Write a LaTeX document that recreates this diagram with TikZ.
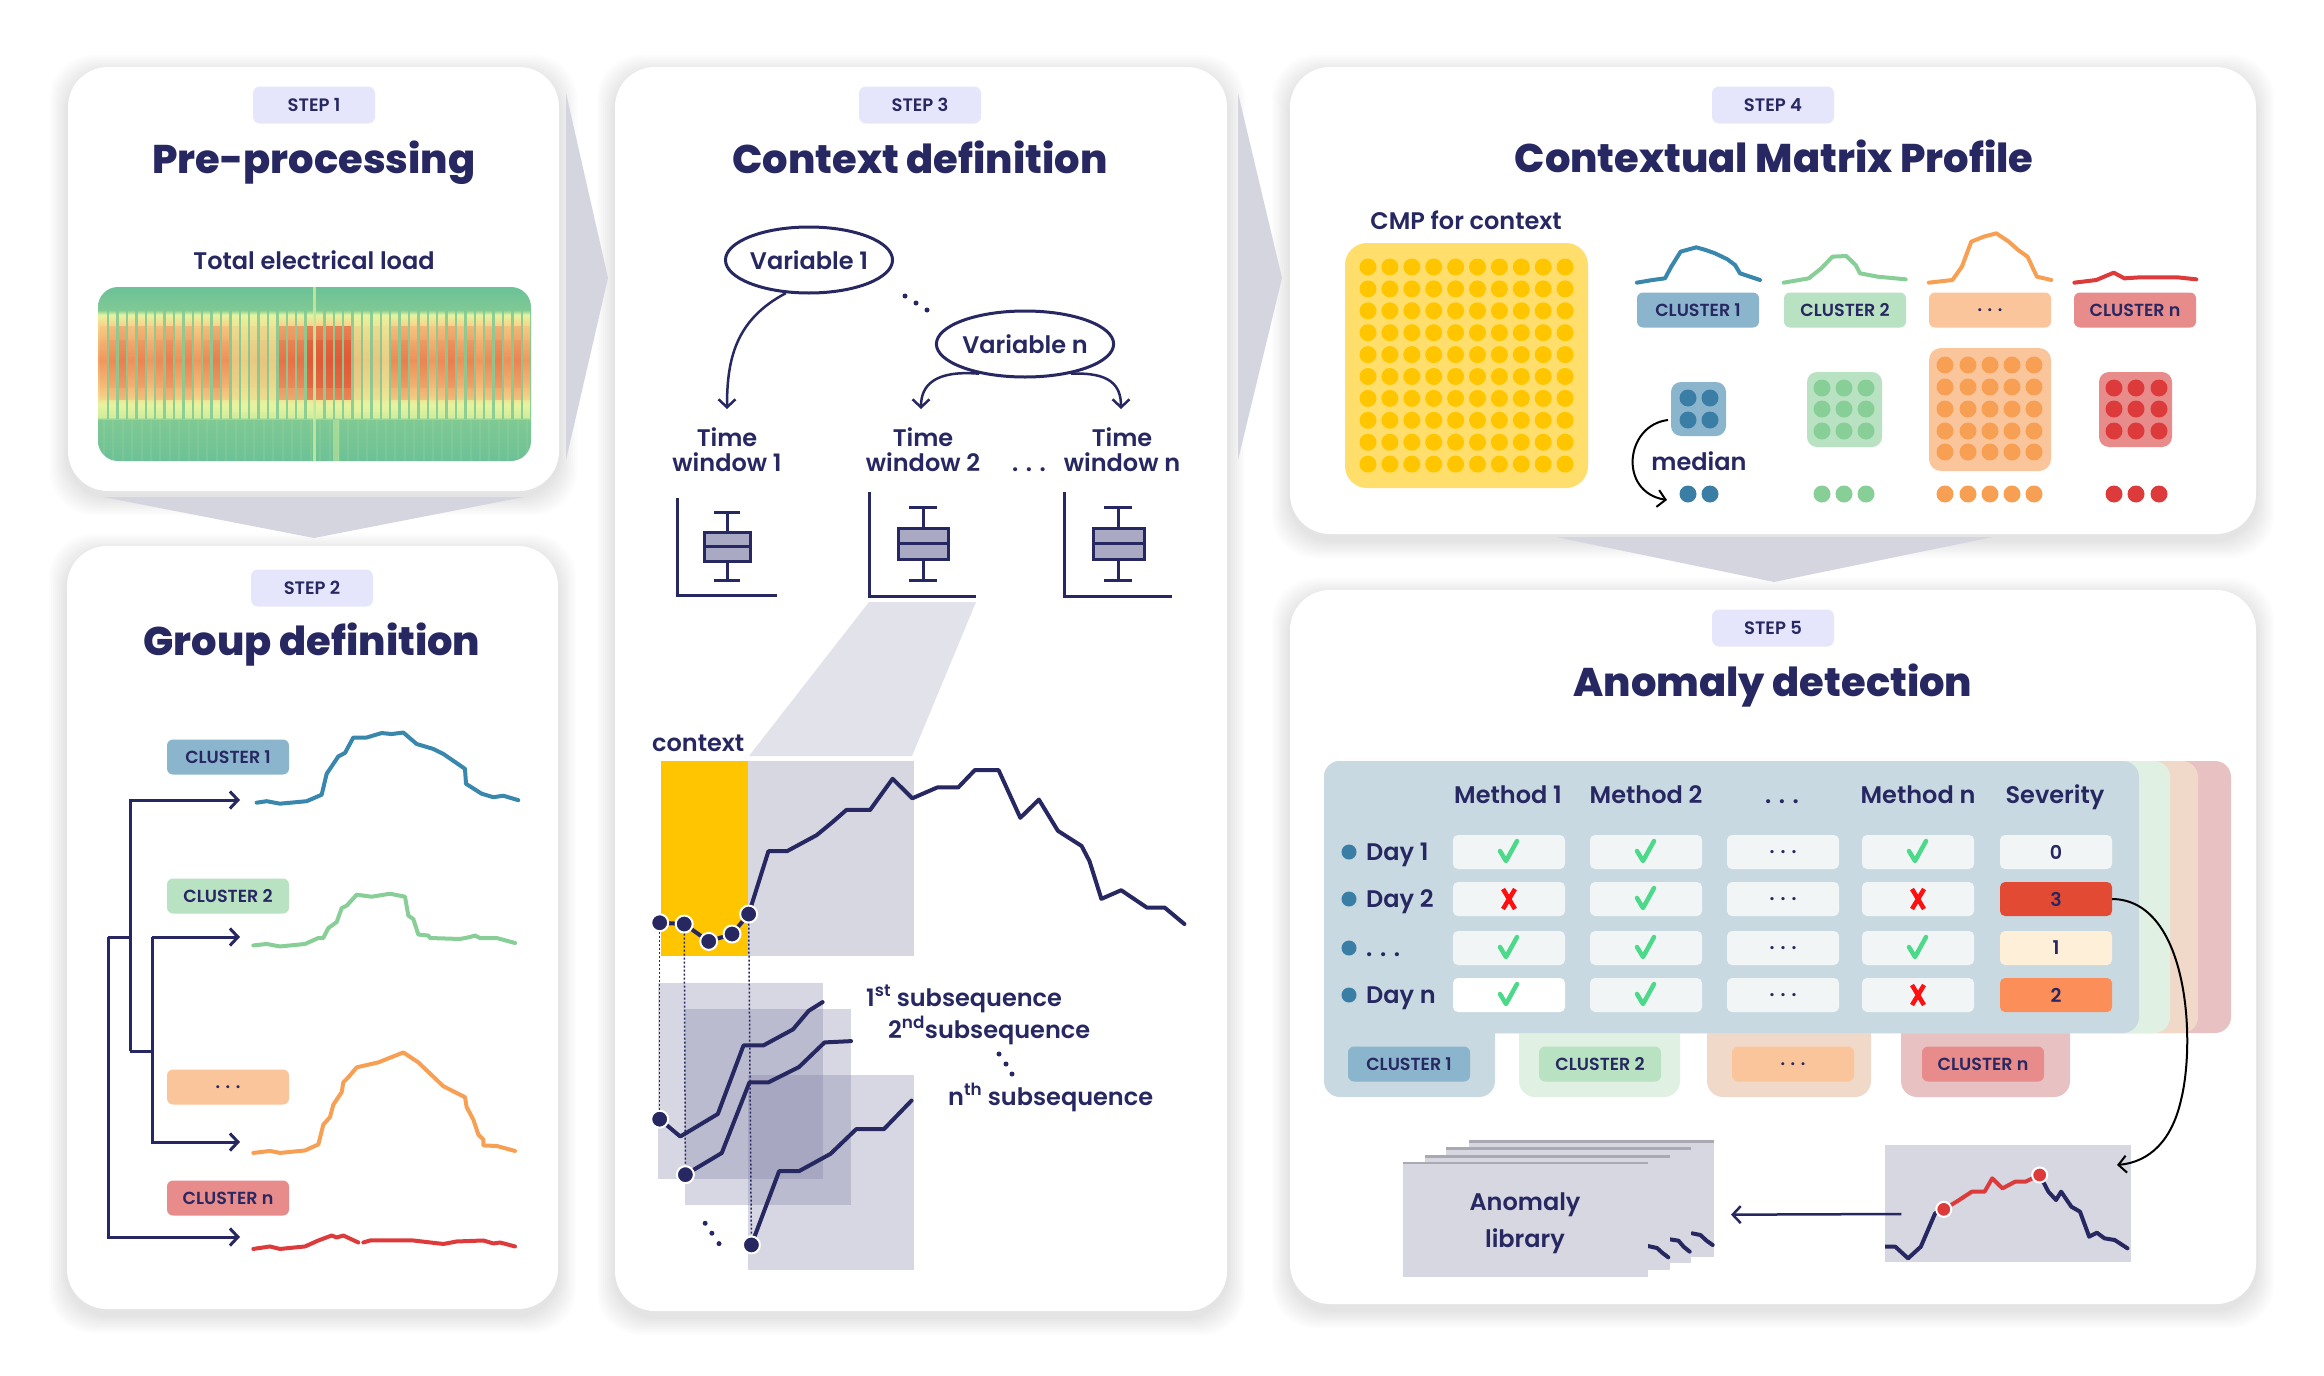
\documentclass[tikz,border=0pt]{standalone}
\usepackage{fontspec}
\setmainfont{Poppins}
\newfontfamily\semib{Poppins SemiBold}
\newfontfamily\xbold{Poppins ExtraBold}
\usetikzlibrary{arrows.meta,shapes.geometric}
\definecolor{navy}{HTML}{272761}
\definecolor{badgebg}{HTML}{E5E5FC}
\definecolor{chev}{HTML}{D5D5E0}
\definecolor{c1c}{HTML}{3A87AE}
\definecolor{c1b}{HTML}{8BB5CD}
\definecolor{c1d}{HTML}{3A7EA6}
\definecolor{c2c}{HTML}{88CE97}
\definecolor{c2b}{HTML}{B8E2C1}
\definecolor{c3c}{HTML}{F7A054}
\definecolor{c3b}{HTML}{FBC59B}
\definecolor{c4c}{HTML}{DD3B3B}
\definecolor{c4b}{HTML}{E88B8B}
\definecolor{ctxy}{HTML}{FFC600}
\definecolor{cmpbg}{HTML}{FFDE6B}
\definecolor{grayb}{HTML}{D7D7E1}
\definecolor{trapc}{HTML}{E2E2EA}
\definecolor{boxf}{HTML}{AAA9C3}
\definecolor{subf}{HTML}{7D7CA3}
\definecolor{blul}{HTML}{C9D9E1}
\definecolor{grnl}{HTML}{E0F1E4}
\definecolor{orgl}{HTML}{F0D9C8}
\definecolor{redl}{HTML}{E8C2C2}
\definecolor{cellc}{HTML}{F2F5F6}
\definecolor{sevA}{HTML}{E34A33}
\definecolor{sevB}{HTML}{FEEFD9}
\definecolor{sevC}{HTML}{FC8F59}
\definecolor{chkc}{HTML}{4CD98A}
\definecolor{crossc}{HTML}{FF1010}
\definecolor{libtop}{HTML}{A9A9B4}
\definecolor{hA}{HTML}{6CC197}
\definecolor{hB}{HTML}{7FC994}
\definecolor{hC}{HTML}{E6F4A0}
\definecolor{hD}{HTML}{F8D48A}
\definecolor{hE}{HTML}{F3A064}
\definecolor{hF}{HTML}{D0EC9C}
\definecolor{hmred}{HTML}{D8301F}
\pgfdeclareverticalshading{hmshade}{100bp}{color(0bp)=(hA); color(25bp)=(hA); color(36.8bp)=(hB); color(37.6bp)=(hF); color(41.1bp)=(hC); color(44bp)=(hD); color(54bp)=(hE); color(64.1bp)=(hD); color(67bp)=(hC); color(68.4bp)=(hB); color(75bp)=(hA); color(100bp)=(hA)}
\newcommand{\shadowpanel}[4]{%
  \foreach \s in {2,4,...,18}{%
    \fill[black,opacity=0.011,rounded corners=44pt] (#1-\s,#2-\s+6) rectangle (#3+\s,#4+\s+6);
  }%
  \fill[white,rounded corners=40pt] (#1,#2) rectangle (#3,#4);
}
\begin{document}
\begin{tikzpicture}[x=1pt,y=-1pt,
  badge/.style={fill=badgebg, rounded corners=7pt, minimum width=122pt, minimum height=37pt, inner sep=0pt, font=\semib\fontsize{18}{20}\selectfont, text=navy},
  ttl/.style={anchor=base, font=\xbold\fontsize{40}{48}\selectfont, text=navy},
  lbl/.style={anchor=base, font=\semib\fontsize{24}{28}\selectfont, text=navy, inner sep=0pt},
  cbadge/.style={rounded corners=6pt, minimum width=122pt, minimum height=35pt, inner sep=0pt, font=\semib\fontsize{17.5}{20}\selectfont, text=navy},
  tree/.style={draw=navy, line width=3pt},
  barb/.style={-{Straight Barb[length=8pt,width=17pt]}},
  curve/.style={line width=4pt, line join=round, line cap=round},
  navydot/.style={circle, fill=navy, draw=white, line width=2pt, minimum size=17pt, inner sep=0pt},
  smalldot/.style={circle, fill=navy, minimum size=5pt, inner sep=0pt},
  ellip/.style={ellipse, draw=navy, line width=3pt, minimum width=162pt, minimum height=66pt, inner sep=0pt, font=\semib\fontsize{24}{28}\selectfont, text=navy},
  cell/.style={fill=cellc, rounded corners=5pt, minimum width=112pt, minimum height=34pt, inner sep=0pt, font=\semib\fontsize{19}{22}\selectfont, text=navy},
  chk/.pic={\draw[chkc, line width=4.5pt, line cap=round, line join=round] (-9,-1) -- (-3,9) -- (8,-11);},
  crs/.pic={\draw[crossc, line width=4.5pt] (-6,-10) -- (6,10) (-6,10) -- (6,-10);},
  zA/.style={shift={(60,540)}, xscale=1/3, yscale=1/2.01},
  zB/.style={shift={(615,640)}, xscale=1/2.529, yscale=1/2.306},
  zC/.style={shift={(1290,60)}, xscale=1/1.6, yscale=1/3},
  zD/.style={shift={(1380,1110)}, xscale=1/1.96, yscale=1/3}
]
\useasboundingbox (0,0) rectangle (2324,1376);
\fill[white] (0,0) rectangle (2324,1376);

% ---------- panels ----------
\shadowpanel{68}{67}{559}{491}
\shadowpanel{67}{546}{558}{1309}
\shadowpanel{615}{67}{1227}{1311}
\shadowpanel{1290}{67}{2256}{534}
\shadowpanel{1290}{590}{2256}{1304}

% ---------- chevrons ----------
\fill[chev] (566,93) -- (608,278) -- (566,460) -- cycle;
\fill[chev] (1238,93) -- (1282,278) -- (1238,460) -- cycle;
\fill[chev] (103,497) -- (524,497) -- (314,538) -- cycle;
\fill[chev] (1556,537) -- (1993,537) -- (1774,582) -- cycle;

% ---------- STEP 1 ----------
\node[badge] (b1) at (314,105) {STEP 1};
\node[ttl] (t1) at (314,173) {Pre-processing};
\node[lbl] (tel) at (314,269) {Total electrical load};
\begin{scope}
  \clip[rounded corners=20pt] (98,287) rectangle (531,461);
  \shade[shading=hmshade] (98,287) rectangle (531,461);
  \foreach \i in {0,...,45}{%
    \pgfmathsetmacro{\xx}{100+\i*9.4}%
    \pgfmathsetmacro{\rr}{(\xx>=298 && \xx<=345) ? 0.5 : ((\xx>=278 && \xx<298) ? 0.3 : 0.05+0.04*mod(\i*7,5))}%
    \pgfmathsetmacro{\pp}{((\xx>=228 && \xx<278) || (\xx>345 && \xx<=382)) ? 0.6 : 0}%
    \fill[hmred, opacity=\rr] (\xx,326) rectangle (\xx+7,400);
    \fill[hmred, opacity=\rr*0.5] (\xx,340) rectangle (\xx+7,388);
    \fill[hC, opacity=\pp] (\xx,316) rectangle (\xx+7,412);
    \fill[hB, opacity=0.85] (\xx+7,306) rectangle (\xx+9.4,419);
    \fill[hF, opacity=0.12] (\xx+3,420) rectangle (\xx+5,461);
  }
  \fill[hF, opacity=0.8] (313,287) rectangle (316,461);
  \fill[hF, opacity=0.5] (333,420) rectangle (339,461);
\end{scope}

% ---------- STEP 2 ----------
\node[badge] (b2) at (312,588) {STEP 2};
\node[ttl] (t2) at (312,655) {Group definition};
\node[cbadge, fill=c1b] (g1) at (228,757) {CLUSTER 1};
\node[cbadge, fill=c2b] (g2) at (228,896) {CLUSTER 2};
\node[cbadge, fill=c3b] (g3) at (228,1087) {. . .};
\node[cbadge, fill=c4b] (g4) at (228,1198) {CLUSTER n};
\coordinate (a1) at (240,800);
\coordinate (a2) at (240,937);
\coordinate (a3) at (240,1142);
\coordinate (a4) at (240,1237);
\coordinate (j1) at (130,1051);
\coordinate (j1m) at (130,937);
\coordinate (j2) at (152,937);
\coordinate (j2b) at (152,1051);
\coordinate (j0) at (108,937);
\draw[tree, barb] (j1) |- (a1);
\draw[tree] (j1) -- (j2b);
\draw[tree, barb] (j2) -- (a2);
\draw[tree, barb] (j2) |- (a3);
\draw[tree] (j0) -- (j1m);
\draw[tree, barb] (j0) |- (a4);
\begin{scope}[zA]
\draw[curve, c1c] (590,528) -- (620,525) -- (660,530) -- (740,525) -- (785,512) -- (800,470) -- (835,435) -- (855,428) -- (880,397) -- (920,397) -- (965,388) -- (995,390) -- (1030,387) -- (1070,410) -- (1120,420) -- (1150,430) -- (1215,460) -- (1218,490) -- (1265,510) -- (1300,517) -- (1330,514) -- (1375,523);
\draw[curve, c2c] (580,815) -- (620,812) -- (660,817) -- (735,812) -- (775,800) -- (790,800) -- (805,780) -- (830,768) -- (845,740) -- (860,735) -- (890,713) -- (935,717) -- (990,711) -- (1035,717) -- (1045,755) -- (1060,762) -- (1075,793) -- (1105,795) -- (1110,800) -- (1200,802) -- (1230,798) -- (1245,795) -- (1260,800) -- (1310,800) -- (1365,810);
\draw[curve, c3c] (580,1232) -- (630,1228) -- (660,1232) -- (735,1227) -- (775,1215) -- (790,1175) -- (810,1160) -- (820,1135) -- (845,1110) -- (850,1090) -- (865,1080) -- (890,1060) -- (955,1050) -- (1030,1030) -- (1075,1050) -- (1150,1098) -- (1215,1120) -- (1220,1140) -- (1240,1165) -- (1255,1195) -- (1270,1205) -- (1270,1217) -- (1310,1218) -- (1365,1228);
\draw[curve, c4c] (580,1425) -- (630,1420) -- (660,1425) -- (735,1420) -- (775,1408) -- (815,1398) -- (830,1402) -- (850,1398) -- (895,1412);
\draw[curve, c4c] (910,1412) -- (930,1408) -- (1060,1408) -- (1150,1415) -- (1190,1410) -- (1270,1408) -- (1300,1414) -- (1320,1412) -- (1365,1420);
\end{scope}

% ---------- STEP 3 ----------
\node[badge] (b3) at (920,105) {STEP 3};
\node[ttl] (t3) at (920,173) {Context definition};
\node[ellip] (v1) at (809,260) {Variable 1};
\node[ellip] (vn) at (1025,344) {Variable n};
\node[smalldot] (vd1) at (905,296) {};
\node[smalldot] (vd2) at (916,303) {};
\node[smalldot] (vd3) at (927,310) {};
\coordinate (tw1) at (727,409);
\coordinate (tw2) at (921,409);
\coordinate (twn) at (1121,409);
\draw[tree, line width=2.5pt, barb] (v1.235) .. controls (735,320) and (727,360) .. (tw1);
\draw[tree, line width=2.5pt, barb] (vn.213) .. controls (935,370) and (921,385) .. (tw2);
\draw[tree, line width=2.5pt, barb] (vn.327) .. controls (1110,372) and (1121,385) .. (twn);
\node[lbl] (tw1a) at (727,446) {Time};
\node[lbl] (tw1b) at (727,471) {window 1};
\node[lbl] (tw2a) at (923,446) {Time};
\node[lbl] (tw2b) at (923,471) {window 2};
\node[lbl] (twna) at (1122,446) {Time};
\node[lbl] (twnb) at (1122,471) {window n};
\node[lbl] (twdots) at (1029,471) {. . .};
% boxplots
\draw[tree] (677,498) -- (677,595) -- (777,595);
\draw[tree, fill=boxf] (704,532) rectangle (750,561);
\draw[tree] (704,546) -- (750,546) (727,512) -- (727,532) (727,561) -- (727,580) (714,512) -- (740,512) (714,580) -- (740,580);
\draw[tree] (869,492) -- (869,596) -- (976,596);
\draw[tree, fill=boxf] (898,528) rectangle (948,559);
\draw[tree] (898,543) -- (948,543) (923,507) -- (923,528) (923,559) -- (923,580) (909,507) -- (937,507) (909,580) -- (937,580);
\draw[tree] (1064,492) -- (1064,596) -- (1172,596);
\draw[tree, fill=boxf] (1093,528) rectangle (1144,559);
\draw[tree] (1093,543) -- (1144,543) (1118,507) -- (1118,528) (1118,559) -- (1118,580) (1104,507) -- (1132,507) (1104,580) -- (1132,580);
\fill[trapc] (869,602) -- (976,602) -- (912,756) -- (749,756) -- cycle;
\node[lbl, anchor=base west] (ctx) at (652,751) {context};
\begin{scope}[zB]
  \fill[ctxy] (116,280) rectangle (336,728);
  \fill[grayb] (336,280) rectangle (755,728);
  \fill[subf, opacity=0.3] (108,790) rectangle (527,1242);
  \fill[subf, opacity=0.3] (178,852) rectangle (597,1302);
  \fill[subf, opacity=0.3] (337,1002) rectangle (755,1453);
  \draw[curve, navy] (113,652) -- (175,655) -- (237,695) -- (296,678) -- (338,632) -- (388,487) -- (435,487) -- (510,450) -- (550,420) -- (585,392) -- (645,392) -- (702,320) -- (752,365) -- (815,340) -- (868,340) -- (910,300) -- (970,300) -- (1025,410) -- (1072,368) -- (1120,440) -- (1180,475) -- (1200,510) -- (1230,597) -- (1280,577) -- (1345,617) -- (1390,617) -- (1440,655);
  \draw[curve, navy] (113,1105) -- (165,1145) -- (260,1093) -- (325,935) -- (375,935) -- (450,898) -- (490,855) -- (525,835);
  \draw[curve, navy] (178,1233) -- (270,1183) -- (340,1020) -- (388,1020) -- (465,985) -- (530,928) -- (597,925);
  \draw[curve, navy] (345,1395) -- (415,1225) -- (465,1225) -- (545,1185) -- (610,1128) -- (680,1128) -- (750,1062);
  \node[navydot] (d1) at (113,652) {};
  \node[navydot] (d2) at (175,655) {};
  \node[navydot] (d3) at (237,695) {};
  \node[navydot] (d4) at (296,678) {};
  \node[navydot] (d5) at (338,632) {};
  \node[navydot] (s1) at (113,1105) {};
  \node[navydot] (s2) at (178,1233) {};
  \node[navydot] (s3) at (345,1395) {};
  \node[smalldot] (sd1) at (228,1345) {};
  \node[smalldot] (sd2) at (245,1368) {};
  \node[smalldot] (sd3) at (263,1392) {};
\end{scope}
\draw[navy, line width=1.5pt, dash pattern=on 2pt off 2pt] (d1) -- (s1);
\draw[navy, line width=1.5pt, dash pattern=on 2pt off 2pt] (d2) -- (s2);
\draw[navy, line width=1.5pt, dash pattern=on 2pt off 2pt] (d5) -- (s3);
\node[lbl, anchor=base west] (sub1) at (866,1006) {1\textsuperscript{st} subsequence};
\node[lbl, anchor=base west] (sub2) at (888,1038) {2\textsuperscript{nd}subsequence};
\node[smalldot] (ld1) at (999,1054) {};
\node[smalldot] (ld2) at (1006,1064) {};
\node[smalldot] (ld3) at (1012,1074) {};
\node[lbl, anchor=base west] (subn) at (948,1105) {n\textsuperscript{th} subsequence};

% ---------- STEP 4 ----------
\node[badge] (b4) at (1773,105) {STEP 4};
\node[ttl] (t4) at (1774,172) {Contextual Matrix Profile};
\node[lbl] (cmpl) at (1466,229) {CMP for context};
\fill[cmpbg, rounded corners=22pt] (1345,243) rectangle (1588,488);
\foreach \i in {0,...,9}{\foreach \j in {0,...,9}{\fill[ctxy] (1368+\i*21.9,267+\j*21.9) circle (8.5);}}
\begin{scope}[zC]
\draw[curve, c1c] (555,668) -- (580,660) -- (600,655) -- (610,620) -- (625,575) -- (650,562) -- (665,570) -- (680,580) -- (700,598) -- (712,615) -- (720,640) -- (752,660);
\draw[curve, c2c] (790,668) -- (830,655) -- (850,625) -- (868,590) -- (890,588) -- (905,615) -- (912,640) -- (940,650) -- (985,658);
\draw[curve, c3c] (1022,668) -- (1060,660) -- (1075,620) -- (1090,545) -- (1110,530) -- (1130,520) -- (1150,545) -- (1165,570) -- (1180,590) -- (1195,650) -- (1218,660);
\draw[curve, c4c] (1255,668) -- (1290,660) -- (1318,638) -- (1335,655) -- (1360,652) -- (1420,652) -- (1450,658);
\end{scope}
\node[cbadge, fill=c1b] (k1) at (1698,310) {CLUSTER 1};
\node[cbadge, fill=c2b] (k2) at (1845,310) {CLUSTER 2};
\node[cbadge, fill=c3b] (k3) at (1990,310) {. . .};
\node[cbadge, fill=c4b] (k4) at (2135,310) {CLUSTER n};
\fill[c1b, rounded corners=10pt] (1671,382) rectangle (1726,436);
\foreach \x in {1688,1710}{\foreach \y in {398,420}{\fill[c1d] (\x,\y) circle (8.5);}}
\fill[c2b, rounded corners=10pt] (1807,372) rectangle (1882,447);
\foreach \x in {1822,1844,1866}{\foreach \y in {388,409,431}{\fill[c2c] (\x,\y) circle (8.5);}}
\fill[c3b, rounded corners=12pt] (1929,348) rectangle (2051,471);
\foreach \x in {1945,1968,1990,2012,2034}{\foreach \y in {365,387,409,431,452}{\fill[c3c] (\x,\y) circle (8.5);}}
\fill[c4b, rounded corners=10pt] (2099,372) rectangle (2172,447);
\foreach \x in {2114,2136,2159}{\foreach \y in {388,409,431}{\fill[c4c] (\x,\y) circle (8.5);}}
\foreach \x in {1688,1710}{\fill[c1d] (\x,494) circle (8.5);}
\foreach \x in {1822,1844,1866}{\fill[c2c] (\x,494) circle (8.5);}
\foreach \x in {1945,1968,1990,2012,2034}{\fill[c3c] (\x,494) circle (8.5);}
\foreach \x in {2114,2136,2159}{\fill[c4c] (\x,494) circle (8.5);}
\node[lbl] (med) at (1699,470) {median};
\coordinate (mstart) at (1668,420);
\coordinate (mend) at (1667,500);
\draw[black, line width=2pt, barb] (mstart) .. controls (1625,425) and (1618,492) .. (mend);

% ---------- STEP 5 ----------
\node[badge] (b5) at (1773,628) {STEP 5};
\node[ttl] (t5) at (1773,696) {Anomaly detection};
\fill[redl, rounded corners=16pt] (1901,1000) rectangle (2070,1097);
\fill[redl, rounded corners=16pt] (1324,761) rectangle (2231,1033);
\fill[orgl, rounded corners=16pt] (1707,1000) rectangle (1871,1097);
\fill[orgl, rounded corners=16pt] (1324,761) rectangle (2198,1033);
\fill[grnl, rounded corners=16pt] (1519,1000) rectangle (1680,1097);
\fill[grnl, rounded corners=16pt] (1324,761) rectangle (2170,1033);
\fill[blul, rounded corners=16pt] (1324,1000) rectangle (1495,1097);
\fill[blul, rounded corners=16pt] (1324,761) rectangle (2139,1033);
\node[cbadge, fill=c1b] (tb1) at (1409,1064) {CLUSTER 1};
\node[cbadge, fill=c2b] (tb2) at (1600,1064) {CLUSTER 2};
\node[cbadge, fill=c3b] (tb3) at (1793,1064) {. . .};
\node[cbadge, fill=c4b] (tb4) at (1983,1064) {CLUSTER n};
\node[lbl] (h1) at (1508,803) {Method 1};
\node[lbl] (h2) at (1646,803) {Method 2};
\node[lbl] (h3) at (1782,803) {. . .};
\node[lbl] (h4) at (1918,803) {Method n};
\node[lbl] (h5) at (2055,803) {Severity};
\fill[c1d] (1349,852) circle (7.5);
\fill[c1d] (1349,899) circle (7.5);
\fill[c1d] (1349,948) circle (7.5);
\fill[c1d] (1349,995) circle (7.5);
\node[lbl, anchor=base west] (r1) at (1366,860) {Day 1};
\node[lbl, anchor=base west] (r2) at (1366,907) {Day 2};
\node[lbl, anchor=base west] (r3) at (1366,956) {. . .};
\node[lbl, anchor=base west] (r4) at (1366,1003) {Day n};
\node[cell] (c11) at (1509,852) {};
\node[cell] (c12) at (1646,852) {};
\node[cell] (c13) at (1783,852) {. . .};
\node[cell] (c14) at (1918,852) {};
\node[cell] (sv1) at (2056,852) {0};
\node[cell] (c21) at (1509,899) {};
\node[cell] (c22) at (1646,899) {};
\node[cell] (c23) at (1783,899) {. . .};
\node[cell] (c24) at (1918,899) {};
\node[cell, fill=sevA] (sv2) at (2056,899) {3};
\node[cell] (c31) at (1509,948) {};
\node[cell] (c32) at (1646,948) {};
\node[cell] (c33) at (1783,948) {. . .};
\node[cell] (c34) at (1918,948) {};
\node[cell, fill=sevB] (sv3) at (2056,948) {1};
\node[cell, fill=white] (c41) at (1509,995) {};
\node[cell] (c42) at (1646,995) {};
\node[cell] (c43) at (1783,995) {. . .};
\node[cell] (c44) at (1918,995) {};
\node[cell, fill=sevC] (sv4) at (2056,995) {2};
\pic at (c11) {chk}; \pic at (c12) {chk}; \pic at (c14) {chk};
\pic at (c21) {crs}; \pic at (c22) {chk}; \pic at (c24) {crs};
\pic at (c31) {chk}; \pic at (c32) {chk}; \pic at (c34) {chk};
\pic at (c41) {chk}; \pic at (c42) {chk}; \pic at (c44) {crs};
% anomaly library and plot
\begin{scope}[zD]
  \fill[grayb] (175,95) rectangle (655,440);
  \draw[libtop, line width=3pt] (175,95) -- (655,95);
  \draw[curve, navy] (612,370) -- (628,375) -- (640,392) -- (652,405);
  \fill[grayb] (130,116) rectangle (610,460);
  \draw[libtop, line width=3pt] (130,116) -- (610,116);
  \draw[curve, navy] (568,388) -- (585,392) -- (595,410) -- (607,425);
  \fill[grayb] (88,138) rectangle (568,480);
  \draw[libtop, line width=3pt] (88,138) -- (568,138);
  \draw[curve, navy] (525,408) -- (543,414) -- (553,428) -- (565,442);
  \fill[grayb] (45,160) rectangle (525,502);
  \draw[libtop, line width=2pt] (45,160) -- (525,160);
  \fill[grayb] (990,105) rectangle (1472,455);
  \begin{scope}
    \clip (990,105) rectangle (1472,455);
    \draw[curve, navy] (990,410) -- (1010,410) -- (1035,445) -- (1060,410) -- (1088,310) -- (1105,298);
    \draw[curve, c4c] (1105,298) -- (1130,275) -- (1160,245) -- (1185,245) -- (1200,205) -- (1220,235) -- (1245,215) -- (1265,215) -- (1293,195);
    \draw[curve, navy] (1293,195) -- (1310,245) -- (1325,270) -- (1335,245) -- (1355,290) -- (1372,305) -- (1390,380) -- (1405,368) -- (1420,385) -- (1440,390) -- (1465,415);
  \end{scope}
  \node[navydot, fill=c4c, minimum size=15pt] (rd1) at (1105,298) {};
  \node[navydot, fill=c4c, minimum size=15pt] (rd2) at (1293,195) {};
  \coordinate (pst) at (1022,312);
  \coordinate (lbe) at (688,314);
\end{scope}
\node[lbl] (lib1) at (1525,1210) {Anomaly};
\node[lbl] (lib2) at (1525,1247) {library};
\draw[tree, line width=2.5pt, barb] (pst) -- (lbe);
\coordinate (sevend) at (2117,1165);
\draw[black, line width=2pt, barb] (sv2.east) .. controls (2188,900) and (2196,1040) .. (2181,1100) .. controls (2172,1140) and (2150,1162) .. (sevend);
\end{tikzpicture}
\end{document}
